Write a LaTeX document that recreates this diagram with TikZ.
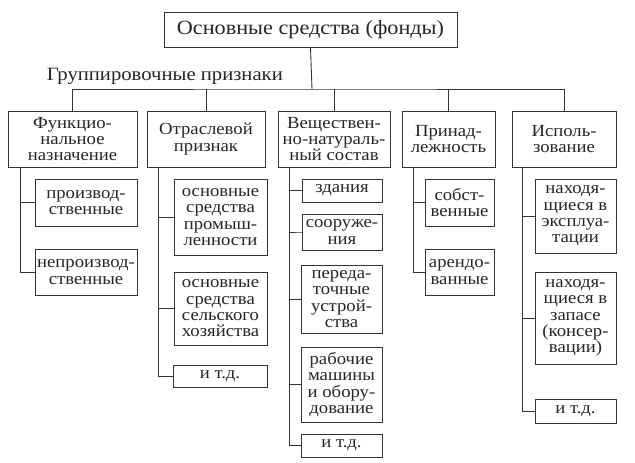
\documentclass[tikz,border=0pt]{standalone}
\usepackage{fontspec}
\setmainfont{Liberation Serif}[FakeStretch=1.1]
\usepackage{tikz}
\usetikzlibrary{positioning,calc}

\begin{document}
\begin{tikzpicture}[x=1pt, y=-1pt, line width=0.9pt, draw=black!80,
    txt/.style={font=\fontsize{17}{16.3}\selectfont, text=black!85},
    box/.style={txt, draw=black!80, line width=0.9pt, align=center, inner sep=0pt},
    head/.style={box, minimum height=56pt},
    item/.style={box}]
        \useasboundingbox (0,0) rectangle (635,463);

        % Title
        \node[box, font=\fontsize{20.2}{22}\selectfont, minimum width=293pt, minimum height=35pt] (top) at (310.5,29.5) {Основные средства (фонды)};
        \node[txt, font=\fontsize{18.8}{20}\selectfont, anchor=base west] (lbl) at (43,80) {Группировочные признаки};
        \coordinate (bus) at (312,89);

        % Grouping features
        \node[head, minimum width=129pt] (f) at (72.5,139) {Функцио-\\нальное\\назначение};
        \node[head, minimum width=118pt] (o) at (206,139) {Отраслевой\\признак};
        \node[head, minimum width=112pt] (v) at (334,139) {Веществен-\\но-натураль-\\ный состав};
        \node[head, minimum width=93pt] (p) at (448.5,139) {Принад-\\лежность};
        \node[head, minimum width=104pt] (i) at (564,139) {Исполь-\\зование};

        \draw (top.south) -- (bus);
        \draw (f.north) |- (bus) -| (i.north);
        \foreach \n in {o,v,p} {
          \draw (\n.north) -- (\n.north |- bus);
        }

        % Functional purpose
        \node[item, minimum width=102pt, minimum height=47pt] (f1) at (86,202.5) {производ-\\ственные};
        \node[item, minimum width=102pt, minimum height=46pt] (f2) at (86,272) {непроизвод-\\ственные};
        \draw ([xshift=13]f.south west) |- (f2.west);
        \draw (f1.west) -- +(-14,0);

        % Branch
        \node[item, minimum width=93pt, minimum height=76pt] (o1) at (220.5,217) {основные\\средства\\промыш-\\ленности};
        \node[item, minimum width=93pt, minimum height=73pt] (o2) at (220.5,308.5) {основные\\средства\\сельского\\хозяйства};
        \node[item, minimum width=94pt, minimum height=22pt] (o3) at (220,376) {и т.д.};
        \draw ([xshift=12]o.south west) |- (o3.west);
        \foreach \c in {o1,o2} {
          \draw (\c.west) -- +(-15,0);
        }

        % Material composition
        \node[item, minimum width=80pt, minimum height=23pt] (v1) at (342,190.5) {здания};
        \node[item, minimum width=80pt, minimum height=36pt] (v2) at (342,232) {сооруже-\\ния};
        \node[item, minimum width=81pt, minimum height=68pt] (v3) at (341.5,299) {переда-\\точные\\устрой-\\ства};
        \node[item, minimum width=81pt, minimum height=75pt] (v4) at (341.5,384.5) {рабочие\\машины\\и обору-\\дование};
        \node[item, minimum width=81pt, minimum height=23pt] (v5) at (341.5,445.5) {и т.д.};
        \draw ([xshift=12]v.south west) |- (v5.west);
        \foreach \c in {v1,v2,v3,v4} {
          \draw (\c.west) -- (\c.west -| v5.west) -- +(-11,0);
        }

        % Ownership
        \node[item, minimum width=69pt, minimum height=47pt] (p1) at (459.5,202.5) {собст-\\венные};
        \node[item, minimum width=69pt, minimum height=46pt] (p2) at (459.5,272) {арендо-\\ванные};
        \draw ([xshift=12]p.south west) |- (p2.west);
        \draw (p1.west) -- +(-11,0);

        % Usage
        \node[item, minimum width=81pt, minimum height=74pt] (i1) at (575.5,216) {находя-\\щиеся в\\эксплуа-\\тации};
        \node[item, minimum width=81pt, minimum height=92pt] (i2) at (575.5,318) {находя-\\щиеся в\\запасе\\(консер-\\вации)};
        \node[item, minimum width=81pt, minimum height=24pt] (i3) at (575.5,411) {и т.д.};
        \draw ([xshift=11]i.south west) |- (i3.west);
        \foreach \c in {i1,i2} {
          \draw (\c.west) -- +(-12,0);
        }
      \end{tikzpicture}
\end{document}
